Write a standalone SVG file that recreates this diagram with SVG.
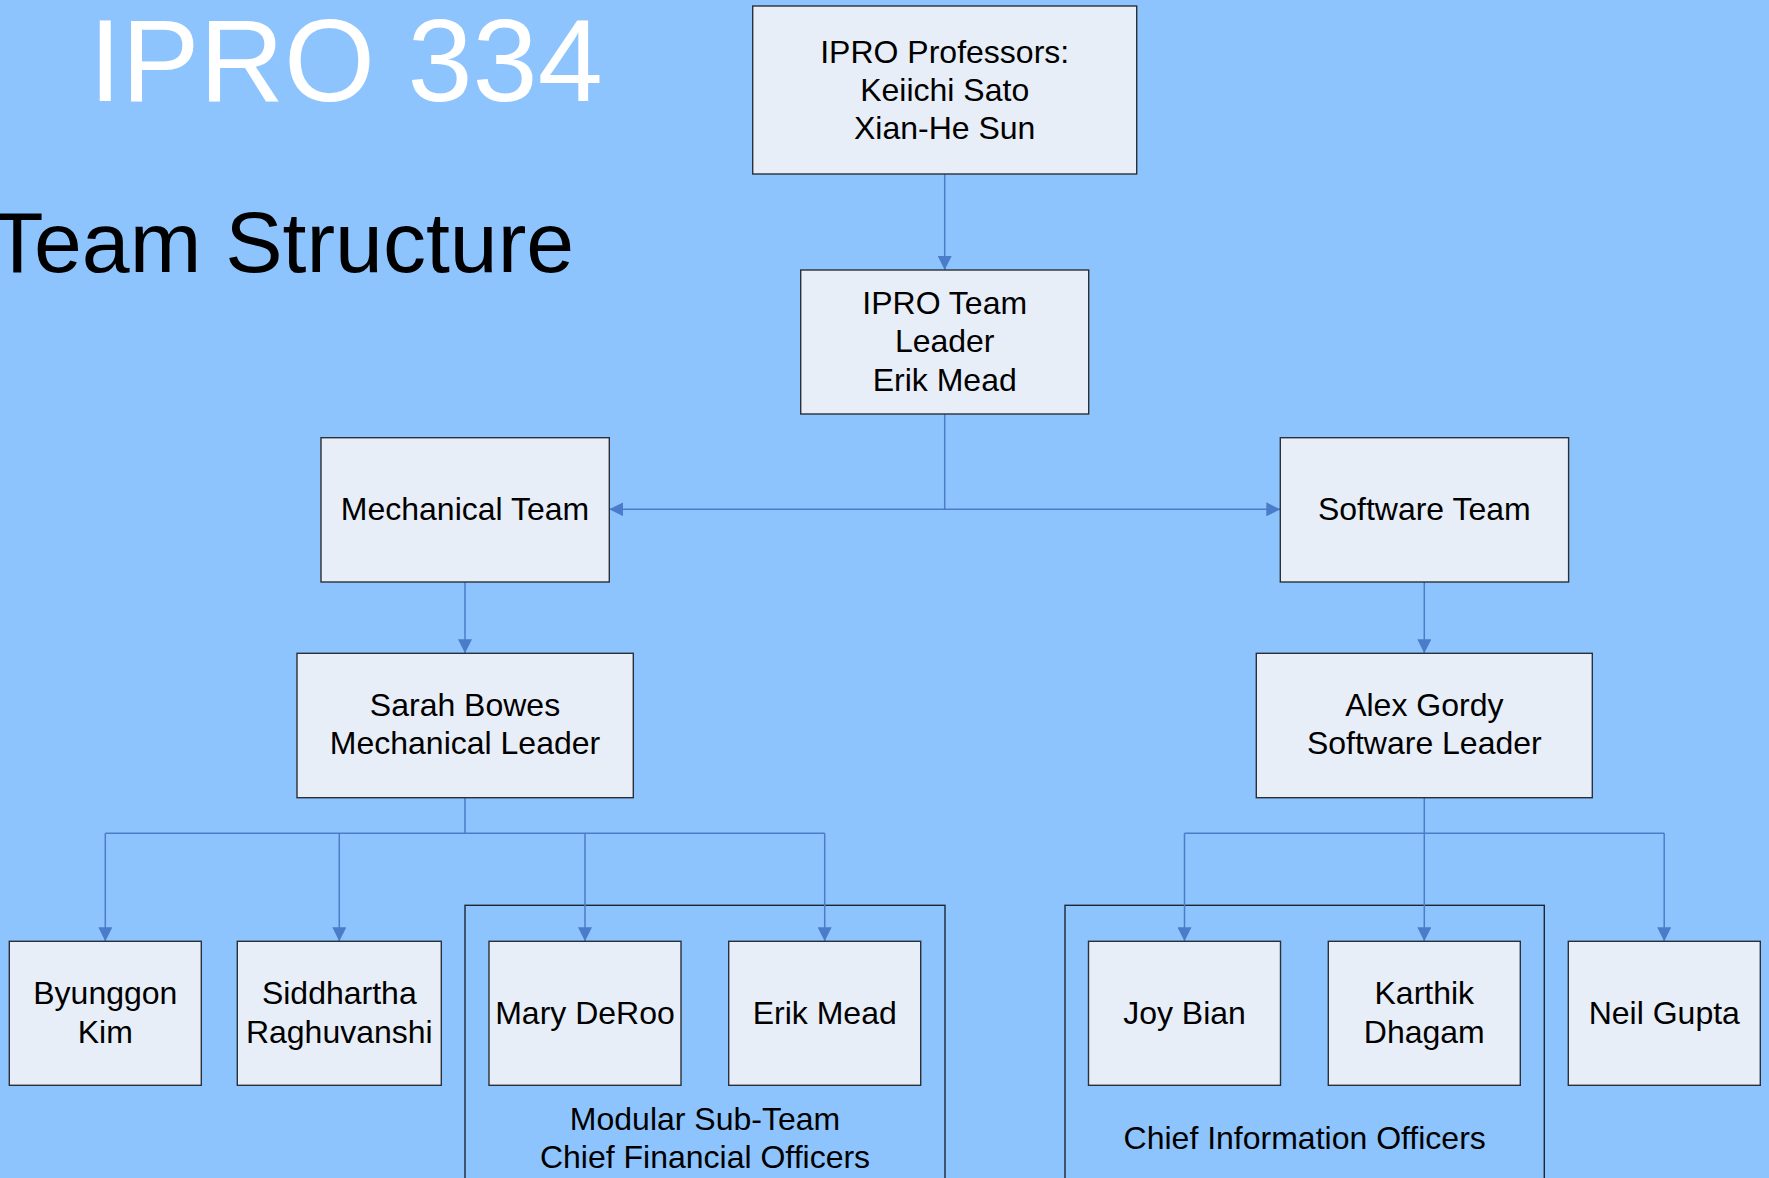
<svg xmlns="http://www.w3.org/2000/svg" width="1769" height="1178" viewBox="0 0 1769 1178">
<style>
.bg{fill:#8EC4FD}
.node{fill:#E8EEF8;stroke:#2B2F36;stroke-width:1.4}
.grp{fill:none;stroke:#1E2633;stroke-width:1.4}
.t{font-family:"Liberation Sans",Arial,sans-serif;font-size:32px;fill:#000;text-anchor:middle}
.c{fill:none;stroke:#4A7CC9;stroke-width:1.5}
</style>
<defs>
<marker id="ah" viewBox="0 0 14 14" refX="14" refY="7" markerWidth="14" markerHeight="14" markerUnits="userSpaceOnUse" orient="auto">
<path d="M0,0 L14,7 L0,14 Z" fill="#4A7CC9"/>
</marker>
</defs>
<rect class="bg" x="0" y="0" width="1769" height="1178"/>
<text x="89" y="101" font-family="Liberation Sans,Arial,sans-serif" font-size="117" fill="#FFFFFF">IPRO 334</text>
<text x="-9" y="272" font-family="Liberation Sans,Arial,sans-serif" font-size="86" fill="#000000">Team Structure</text>

<g id="group-modular">
<rect class="grp" x="465" y="905.3" width="480" height="300"/>
<text class="t" x="705" y="1130.3">Modular Sub-Team</text>
<text class="t" x="705" y="1167.7">Chief Financial Officers</text>
</g>
<g id="group-cio">
<rect class="grp" x="1065" y="905.3" width="479.3" height="300"/>
<text class="t" x="1304.7" y="1149.3">Chief Information Officers</text>
</g>

<g id="connectors">
<line class="c" x1="944.7" y1="174" x2="944.7" y2="270" marker-end="url(#ah)"/>
<polyline class="c" points="944.7,414 944.7,509.3 609.3,509.3" marker-end="url(#ah)"/>
<polyline class="c" points="944.7,509.3 1280.3,509.3" marker-end="url(#ah)"/>
<line class="c" x1="465" y1="582" x2="465" y2="653.3" marker-end="url(#ah)"/>
<line class="c" x1="1424.3" y1="582" x2="1424.3" y2="653.3" marker-end="url(#ah)"/>
<line class="c" x1="465" y1="797.7" x2="465" y2="833.3"/>
<line class="c" x1="105.3" y1="833.3" x2="824.7" y2="833.3"/>
<line class="c" x1="105.3" y1="833.3" x2="105.3" y2="941.3" marker-end="url(#ah)"/>
<line class="c" x1="339.3" y1="833.3" x2="339.3" y2="941.3" marker-end="url(#ah)"/>
<line class="c" x1="585" y1="833.3" x2="585" y2="941.3" marker-end="url(#ah)"/>
<line class="c" x1="824.7" y1="833.3" x2="824.7" y2="941.3" marker-end="url(#ah)"/>
<line class="c" x1="1424.3" y1="797.7" x2="1424.3" y2="833.3"/>
<line class="c" x1="1184.5" y1="833.3" x2="1664.2" y2="833.3"/>
<line class="c" x1="1184.5" y1="833.3" x2="1184.5" y2="941.3" marker-end="url(#ah)"/>
<line class="c" x1="1424.3" y1="833.3" x2="1424.3" y2="941.3" marker-end="url(#ah)"/>
<line class="c" x1="1664.2" y1="833.3" x2="1664.2" y2="941.3" marker-end="url(#ah)"/>
</g>

<g id="professors">
<rect class="node" x="752.7" y="6" width="384" height="168"/>
<text class="t" x="944.7" y="62.5">IPRO Professors:</text>
<text class="t" x="944.7" y="100.5">Keiichi Sato</text>
<text class="t" x="944.7" y="138.5">Xian-He Sun</text>
</g>
<g id="team-leader">
<rect class="node" x="800.7" y="270" width="288" height="144"/>
<text class="t" x="944.7" y="313.5">IPRO Team</text>
<text class="t" x="944.7" y="352">Leader</text>
<text class="t" x="944.7" y="390.5">Erik Mead</text>
</g>
<g id="mechanical-team">
<rect class="node" x="321" y="437.7" width="288.3" height="144.3"/>
<text class="t" x="465" y="520.3">Mechanical Team</text>
</g>
<g id="software-team">
<rect class="node" x="1280.3" y="437.7" width="288.3" height="144.3"/>
<text class="t" x="1424.3" y="520.3">Software Team</text>
</g>
<g id="sarah">
<rect class="node" x="297" y="653.3" width="336.3" height="144.4"/>
<text class="t" x="465" y="716">Sarah Bowes</text>
<text class="t" x="465" y="754.3">Mechanical Leader</text>
</g>
<g id="alex">
<rect class="node" x="1256.3" y="653.3" width="336" height="144.4"/>
<text class="t" x="1424.3" y="716">Alex Gordy</text>
<text class="t" x="1424.3" y="754.3">Software Leader</text>
</g>
<g id="byunggon">
<rect class="node" x="9.3" y="941.3" width="192" height="144"/>
<text class="t" x="105.3" y="1004.3">Byunggon</text>
<text class="t" x="105.3" y="1042.7">Kim</text>
</g>
<g id="siddhartha">
<rect class="node" x="237.3" y="941.3" width="204" height="144"/>
<text class="t" x="339.3" y="1004.3">Siddhartha</text>
<text class="t" x="339.3" y="1042.7">Raghuvanshi</text>
</g>
<g id="mary">
<rect class="node" x="489" y="941.3" width="192" height="144"/>
<text class="t" x="585" y="1023.7">Mary DeRoo</text>
</g>
<g id="erik">
<rect class="node" x="728.7" y="941.3" width="192" height="144"/>
<text class="t" x="824.7" y="1023.7">Erik Mead</text>
</g>
<g id="joy">
<rect class="node" x="1088.5" y="941.3" width="192" height="144"/>
<text class="t" x="1184.5" y="1023.7">Joy Bian</text>
</g>
<g id="karthik">
<rect class="node" x="1328.3" y="941.3" width="192" height="144"/>
<text class="t" x="1424.3" y="1004.3">Karthik</text>
<text class="t" x="1424.3" y="1042.7">Dhagam</text>
</g>
<g id="neil">
<rect class="node" x="1568.3" y="941.3" width="192" height="144"/>
<text class="t" x="1664.3" y="1023.7">Neil Gupta</text>
</g>
</svg>
